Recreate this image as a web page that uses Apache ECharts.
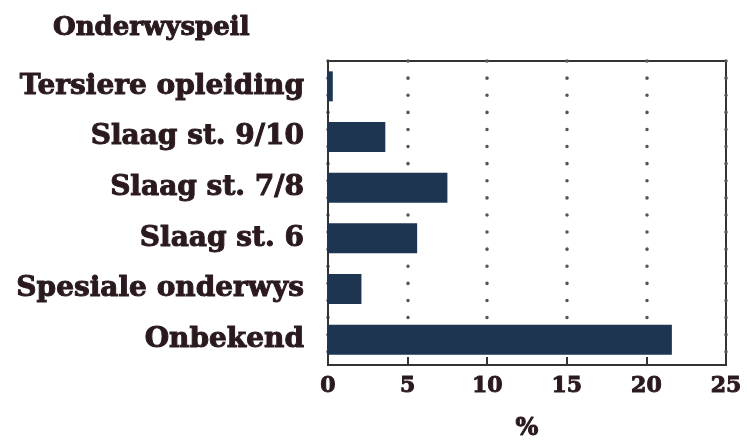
<!DOCTYPE html>
<html>
<head>
<meta charset="utf-8">
<script src="https://cdn.jsdelivr.net/npm/echarts@6/dist/echarts.min.js"></script>
<style>
html, body { margin: 0; padding: 0; background: #fff; }
#chart { width: 747px; height: 441px; }
</style>
</head>
<body>
<div id="chart"></div>
<script>
// data
var categories = ['Tersiere opleiding', 'Slaag st. 9/10', 'Slaag st. 7/8', 'Slaag st. 6', 'Spesiale onderwys', 'Onbekend'];
var values = [0.3, 3.6, 7.5, 5.6, 2.1, 21.6];
var xTicks = [0, 5, 10, 15, 20, 25];

var myChart = echarts.init(document.getElementById('chart'));

var fontFam = '"DejaVu Serif", serif';
var textCol = '#2a1a1e';

// heavy text, a thin stroke of the same colour thickens the glyphs
function heavy(size) {
	return {
		fontFamily: fontFam, fontWeight: 'bold', fontSize: size, color: textCol,
		textBorderColor: textCol, textBorderWidth: 1
	};
}

var option = {
	title: {
		text: 'Onderwyspeil',
		left: 48,
		top: 10,
		textStyle: heavy(26)
	},
	grid: {
		left: 328, right: 21, top: 61, bottom: 76,
		outerBoundsMode: 'none',
		show: true, borderColor: '#333', borderWidth: 2, backgroundColor: 'transparent'
	},
	xAxis: {
		type: 'value',
		min: 0, max: 25, interval: 5,
		name: '%',
		nameLocation: 'middle',
		nameGap: 52,
		nameTextStyle: heavy(24),
		axisLine: { show: true, lineStyle: { color: '#333', width: 2 } },
		axisTick: { show: true, inside: true, length: 8, lineStyle: { color: '#333', width: 2 } },
		axisLabel: Object.assign({
			margin: 10,
			formatter: function (v) { return xTicks.indexOf(v) >= 0 ? String(v) : ''; }
		}, heavy(22)),
		// round dots
		splitLine: { show: true, lineStyle: { color: '#555', type: [0.1, 17], width: 3.5, cap: 'round' } }
	},
	yAxis: {
		type: 'category',
		data: categories,
		inverse: true,
		axisLine: { show: true, lineStyle: { color: '#333', width: 2 } },
		axisTick: { show: false },
		axisLabel: Object.assign({ margin: 24 }, heavy(28))
	},
	series: [{
		type: 'bar',
		data: values,
		barWidth: 30,
		itemStyle: { color: '#1d3550' },
		silent: true
	}],
	animation: false
};

myChart.setOption(option);
</script>
</body>
</html>
